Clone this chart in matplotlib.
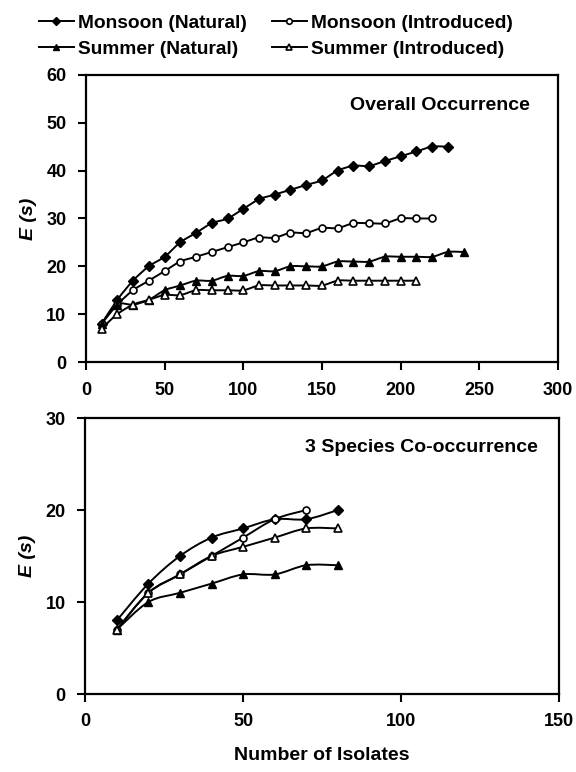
import matplotlib
matplotlib.use("Agg")
import matplotlib.pyplot as plt
from matplotlib.lines import Line2D
from matplotlib.path import Path
from matplotlib.patches import PathPatch

plt.rcParams['font.family'] = ['Liberation Sans', 'DejaVu Sans']
plt.rcParams['font.weight'] = 'bold'

# ---- Data: Overall Occurrence ----
x_mn_top = [10, 20, 30, 40, 50, 60, 70, 80, 90, 100, 110, 120, 130, 140, 150,
            160, 170, 180, 190, 200, 210, 220, 230]
y_mn_top = [8, 13, 17, 20, 22, 25, 27, 29, 30, 32, 34, 35, 36, 37, 38,
            40, 41, 41, 42, 43, 44, 45, 45]
x_mi_top = [10, 20, 30, 40, 50, 60, 70, 80, 90, 100, 110, 120, 130, 140, 150,
            160, 170, 180, 190, 200, 210, 220]
y_mi_top = [8, 12, 15, 17, 19, 21, 22, 23, 24, 25, 26, 26, 27, 27, 28,
            28, 29, 29, 29, 30, 30, 30]
x_sn_top = [10, 20, 30, 40, 50, 60, 70, 80, 90, 100, 110, 120, 130, 140, 150,
            160, 170, 180, 190, 200, 210, 220, 230, 240]
y_sn_top = [8, 12, 12, 13, 15, 16, 17, 17, 18, 18, 19, 19, 20, 20, 20,
            21, 21, 21, 22, 22, 22, 22, 23, 23]
x_si_top = [10, 20, 30, 40, 50, 60, 70, 80, 90, 100, 110, 120, 130, 140, 150,
            160, 170, 180, 190, 200, 210]
y_si_top = [7, 10, 12, 13, 14, 14, 15, 15, 15, 15, 16, 16, 16, 16, 16,
            17, 17, 17, 17, 17, 17]

# ---- Data: 3 Species Co-occurrence ----
x_mn_bot = [10, 20, 30, 40, 50, 60, 70, 80]
y_mn_bot = [8, 12, 15, 17, 18, 19, 19, 20]
x_mi_bot = [10, 20, 30, 40, 50, 60, 70]
y_mi_bot = [7, 11, 13, 15, 17, 19, 20]
x_sn_bot = [10, 20, 30, 40, 50, 60, 70, 80]
y_sn_bot = [7, 10, 11, 12, 13, 13, 14, 14]
x_si_bot = [10, 20, 30, 40, 50, 60, 70, 80]
y_si_bot = [7, 11, 13, 15, 16, 17, 18, 18]

series_names = ["Monsoon (Natural)", "Monsoon (Introduced)",
                "Summer (Natural)", "Summer (Introduced)"]

styles = [
    dict(marker='D', mfc='black', mec='black', ms=4.6),
    dict(marker='o', mfc='white', mec='black', ms=5.0, mew=1.2),
    dict(marker='^', mfc='black', mec='black', ms=6.0),
    dict(marker='^', mfc='white', mec='black', ms=6.0, mew=1.2),
]


def smooth_path(xs, ys):
    """Excel-like smoothed line drawn as cubic Bezier segments through the data."""
    pts = list(zip(xs, ys))
    n = len(pts)
    verts = [pts[0]]
    codes = [Path.MOVETO]
    for i in range(n - 1):
        p0 = pts[i - 1] if i > 0 else pts[i]
        p1 = pts[i]
        p2 = pts[i + 1]
        p3 = pts[i + 2] if i + 2 < n else pts[i + 1]
        c1 = (p1[0] + (p2[0] - p0[0]) / 6.0, p1[1] + (p2[1] - p0[1]) / 6.0)
        c2 = (p2[0] - (p3[0] - p1[0]) / 6.0, p2[1] - (p3[1] - p1[1]) / 6.0)
        verts += [c1, c2, p2]
        codes += [Path.CURVE4, Path.CURVE4, Path.CURVE4]
    return Path(verts, codes)


fig = plt.figure(figsize=(5.76, 7.72), dpi=100)
ax1 = fig.add_axes([0.149, 0.531, 0.820, 0.372])
ax2 = fig.add_axes([0.148, 0.101, 0.822, 0.3575])

top_data = [(x_mn_top, y_mn_top), (x_mi_top, y_mi_top),
            (x_sn_top, y_sn_top), (x_si_top, y_si_top)]
bot_data = [(x_mn_bot, y_mn_bot), (x_mi_bot, y_mi_bot),
            (x_sn_bot, y_sn_bot), (x_si_bot, y_si_bot)]

for ax, data in ((ax1, top_data), (ax2, bot_data)):
    for (xs, ys), st in zip(data, styles):
        ax.add_patch(PathPatch(smooth_path(xs, ys), facecolor='none',
                               edgecolor='black', lw=1.4, zorder=2))
        ax.plot(xs, ys, linestyle='none', zorder=3, **st)

ax1.set_xlim(0, 300)
ax1.set_ylim(0, 60)
ax1.set_xticks(range(0, 301, 50))
ax1.set_yticks(range(0, 61, 10))
ax2.set_xlim(0, 150)
ax2.set_ylim(0, 30)
ax2.set_xticks(range(0, 151, 50))
ax2.set_yticks(range(0, 31, 10))

for ax in (ax1, ax2):
    for sp in ax.spines.values():
        sp.set_linewidth(1.6)
    ax.tick_params(direction='out', length=6, width=1.5, labelsize=13, pad=8)
    for lab in ax.get_xticklabels() + ax.get_yticklabels():
        lab.set_fontweight('bold')
    ax.set_ylabel("E (s)", fontsize=14, fontweight='bold', fontstyle='italic',
                  labelpad=7)

ax1.text(0.94, 0.895, "Overall Occurrence", transform=ax1.transAxes,
         ha='right', va='center', fontsize=14, fontweight='bold')
ax2.text(0.956, 0.895, "3 Species Co-occurrence", transform=ax2.transAxes,
         ha='right', va='center', fontsize=14, fontweight='bold')
ax2.set_xlabel("Number of Isolates", fontsize=14, fontweight='bold', labelpad=12)

handles = []
for st in styles:
    s = dict(st)
    s['ms'] = s['ms'] * 0.8
    handles.append(Line2D([0], [0], color='black', lw=1.4, **s))
order = [0, 2, 1, 3]
leg = fig.legend([handles[i] for i in order], [series_names[i] for i in order],
                 ncol=2, loc='upper left', bbox_to_anchor=(0.037, 1.004),
                 frameon=False, handlelength=1.85,
                 handletextpad=0.2, columnspacing=1.3, labelspacing=0.45,
                 prop={'weight': 'bold', 'size': 13.8})

fig.savefig("out.png", dpi=100)
